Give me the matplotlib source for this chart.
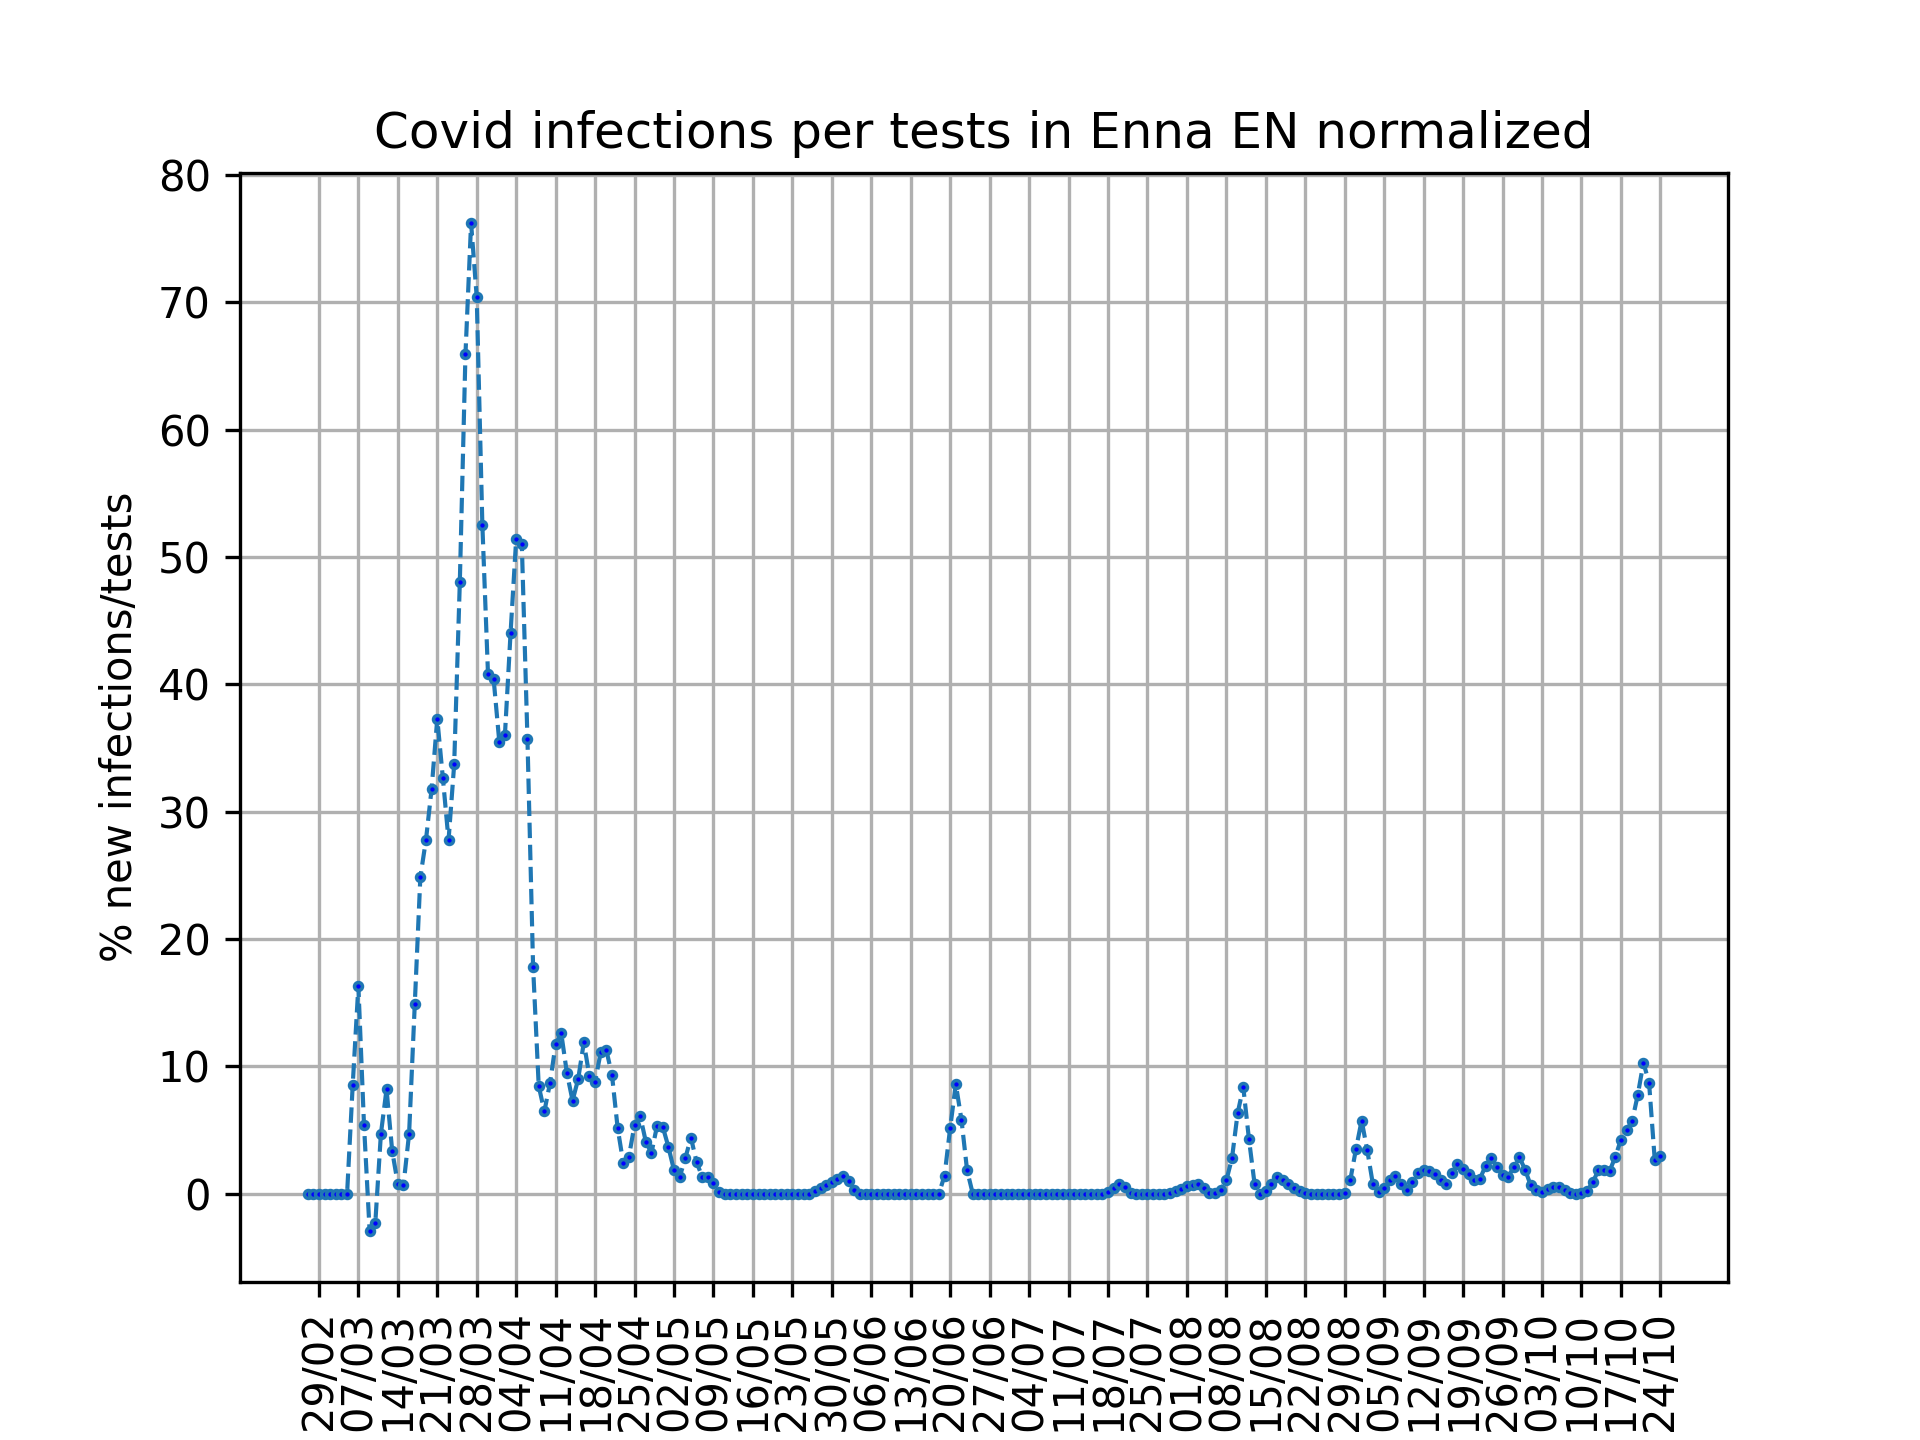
import matplotlib
matplotlib.use("Agg")
import matplotlib.pyplot as plt
import pandas as pd

# daily values, % new infections / tests (normalized)
feb = [0.0, 0.0, 0.0]  # 27/02 - 29/02
mar = [0.0, 0.0, 0.0, 0.0, 0.0, 8.55, 16.3, 5.4, -2.95, -2.33,
       4.7, 8.2, 3.36, 0.76, 0.64, 4.7, 14.86, 24.87, 27.8, 31.8,
       37.3, 32.6, 27.75, 33.7, 48.0, 65.9, 76.2, 70.4, 52.5, 40.8,
       40.4]
apr = [35.5, 36.0, 44.0, 51.4, 51.0, 35.7, 17.8, 8.45, 6.45, 8.68,
       11.74, 12.58, 9.47, 7.3, 9.0, 11.87, 9.2, 8.8, 11.1, 11.26,
       9.3, 5.16, 2.4, 2.9, 5.4, 6.1, 4.08, 3.2, 5.34, 5.26]
may = [3.68, 1.84, 1.3, 2.76, 4.4, 2.5, 1.3, 1.34, 0.8, 0.15,
       0.0, 0.0, 0.0, 0.0, 0.0, 0.0, 0.0, 0.0, 0.0, 0.0,
       0.0, 0.0, 0.0, 0.0, 0.0, 0.0, 0.2, 0.47, 0.7, 0.9,
       1.17]
jun = [1.4, 1.0, 0.3, 0.0, 0.0, 0.0, 0.0, 0.0, 0.0, 0.0,
       0.0, 0.0, 0.0, 0.0, 0.0, 0.0, 0.0, 0.0, 1.41, 5.17,
       8.6, 5.8, 1.83, 0.0, 0.0, 0.0, 0.0, 0.0, 0.0, 0.0]
jul = [0.0, 0.0, 0.0, 0.0, 0.0, 0.0, 0.0, 0.0, 0.0, 0.0,
       0.0, 0.0, 0.0, 0.0, 0.0, 0.0, 0.0, 0.15, 0.45, 0.78,
       0.52, 0.05, 0.0, 0.0, 0.0, 0.0, 0.0, 0.0, 0.05, 0.18,
       0.39]
aug = [0.57, 0.65, 0.73, 0.47, 0.05, 0.05, 0.31, 1.04, 2.79, 6.32,
       8.36, 4.31, 0.78, 0.0, 0.18, 0.73, 1.31, 1.10, 0.78, 0.47,
       0.22, 0.08, 0.0, 0.0, 0.0, 0.0, 0.0, 0.0, 0.08, 1.1,
       3.52]
sep = [5.74, 3.4, 0.73, 0.13, 0.47, 1.04, 1.36, 0.78, 0.31, 0.91,
       1.62, 1.88, 1.78, 1.51, 1.1, 0.73, 1.62, 2.3, 1.96, 1.57,
       1.04, 1.17, 2.2, 2.83, 2.1, 1.44, 1.31, 2.1, 2.85, 1.88]
oct_ = [0.65, 0.26, 0.13, 0.39, 0.52, 0.52, 0.26, 0.05, 0.0, 0.08,
        0.21, 0.89, 1.83, 1.83, 1.78, 2.88, 4.24, 4.97, 5.71, 7.77,
        10.29, 8.69, 2.67, 2.98]

START = "2020-02-27"
TICK_START, TICK_END = "2020-02-29", "2020-10-24"

values = feb + mar + apr + may + jun + jul + aug + sep + oct_
dates = pd.date_range(START, periods=len(values), freq="D")
ticks = pd.date_range(TICK_START, TICK_END, freq="7D")
tick_labels = [d.strftime("%d/%m") for d in ticks]

fig, ax = plt.subplots(figsize=(6.4, 4.8), dpi=300)
ax.plot(dates, values, "--o", color="C0", linewidth=1.0, markersize=1.9,
        markerfacecolor="b", markeredgecolor="C0", markeredgewidth=0.85)
ax.set_xticks(ticks)
ax.set_xticklabels(tick_labels, rotation=90)
ax.set_title("Covid infections per tests in Enna EN normalized")
ax.set_ylabel("% new infections/tests")
ax.grid(True)
fig.savefig("out.png", dpi=300)
